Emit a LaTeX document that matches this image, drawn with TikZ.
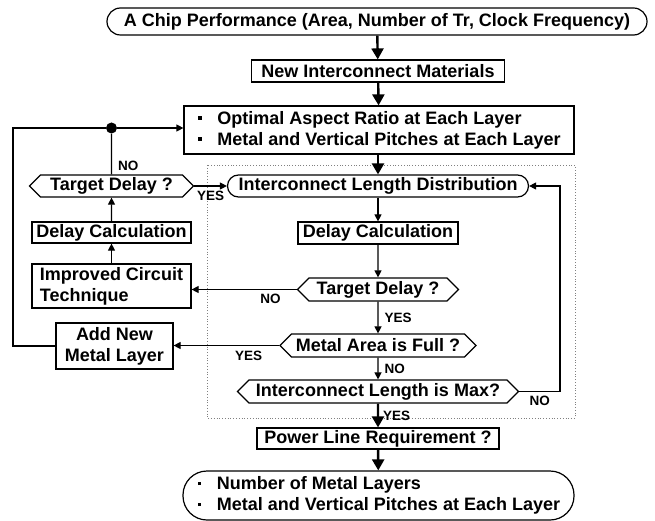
\documentclass[tikz,border=0pt]{standalone}
\usepackage{fontspec}
\setmainfont{Liberation Sans}
\usetikzlibrary{shapes.symbols,arrows.meta}

\newcommand{\bul}{\makebox[20bp][l]{\hspace{1bp}\rule[4.5bp]{3.5bp}{3.5bp}}}

\begin{document}
\begin{tikzpicture}[x=1bp,y=-1bp]
\tikzstyle{every node}+=[inner sep=0pt,font=\bfseries\fontsize{18bp}{21bp}\selectfont]
\tikzstyle{box}=[draw,line width=1.2bp,rectangle]
\tikzstyle{term}=[draw,line width=1.2bp,rectangle,rounded corners=11bp]
\tikzstyle{test}=[draw,line width=1.2bp,signal,signal to=west and east,signal pointer angle=90]
\tikzstyle{lbl}=[font=\bfseries\fontsize{13.5bp}{15bp}\selectfont]
\tikzstyle{arr}=[line width=1.2bp,-{Triangle[width=7bp,length=7bp]}]
\tikzstyle{bigarr}=[line width=2.4bp,-{Triangle[width=12bp,length=11bp]}]
\useasboundingbox (0,0) rectangle (655,521);

\node[term,minimum width=540bp,minimum height=27bp,rounded corners=13.5bp] (perf) at (377,21.5) {A Chip Performance (Area, Number of Tr, Clock Frequency)};
\node[box,minimum width=253bp,minimum height=22bp] (mat) at (378,71) {New Interconnect Materials};
\node[box,minimum width=390bp,minimum height=48bp,align=left] (opt) at (379,130) {\bul Optimal Aspect Ratio at Each Layer\\\bul Metal and Vertical Pitches at Each Layer};
\node[term,minimum width=301bp,minimum height=22bp] (dist) at (378,186) {Interconnect Length Distribution};
\node[box,minimum width=160bp,minimum height=22bp] (calc) at (378,233) {Delay Calculation};
\node[test,minimum width=161bp,minimum height=23bp] (tgt) at (378,289.5) {Target Delay ?};
\node[test,minimum width=196bp,minimum height=23bp] (full) at (378,345.5) {Metal Area is Full ?};
\node[test,minimum width=281bp,minimum height=23bp] (max) at (378,391.5) {Interconnect Length is Max?};
\node[box,minimum width=242bp,minimum height=21bp] (pwr) at (378,438.5) {Power Line Requirement ?};
\node[term,minimum width=391bp,minimum height=49bp,rounded corners=24bp,align=left] (out) at (378.5,495.5) {\bul Number of Metal Layers\\\bul Metal and Vertical Pitches at Each Layer};

\node[test,minimum width=164bp,minimum height=22bp] (ltgt) at (111.5,186) {Target Delay ?};
\node[box,minimum width=159bp,minimum height=21bp] (lcalc) at (111.5,232.5) {Delay Calculation};
\node[box,minimum width=159bp,minimum height=44bp,align=left] (imp) at (111.5,286) {Improved Circuit\\Technique};
\node[box,minimum width=117bp,minimum height=46bp,align=center] (add) at (114.5,346) {Add New\\Metal Layer};
\node[circle,fill,minimum size=11bp] (dot) at (111.5,128) {};
\coordinate (lt) at (13,128);
\coordinate (lb) at (13,346);
\coordinate (rt) at (560,186);
\coordinate (rb) at (560,391.5);

\draw[dotted,line width=0.8bp,gray] (207,165) rectangle (575,418);

\draw[bigarr] (perf) -- (mat);
\draw[bigarr] (mat) -- (opt);
\draw[bigarr] (opt.south -| dist) -- (dist);
\draw[arr] (dist) -- (calc);
\draw[arr] (calc) -- (tgt);
\draw[arr] (tgt) -- node[lbl,anchor=west,xshift=6bp]{YES} (full);
\draw[arr] (full) -- node[lbl,anchor=west,xshift=6bp]{NO} (max);
\draw[bigarr] (max) -- node[lbl,anchor=west,xshift=4bp]{YES} (pwr);
\draw[bigarr] (pwr) -- (out);
\draw[arr] (max.east) -- node[lbl,below=4bp]{NO} (rb) -- (rt) -- (dist.east);
\draw[arr] (tgt.west) -- node[lbl,below=4bp,pos=0.25]{NO} (tgt.west -| imp.east);
\draw[arr] (full.west) -- node[lbl,below=5bp,pos=0.29]{YES} (full.west -| add.east);

\draw[arr] (imp) -- (lcalc);
\draw[arr] (lcalc) -- (ltgt);
\draw[line width=1.2bp] (ltgt) -- node[lbl,anchor=west,xshift=6bp,pos=0.22]{NO} (dot);
\draw[arr] (ltgt.east) -- node[lbl,below=4bp]{YES} (dist.west);
\draw[line width=1.2bp] (add.west) -- (lb) -- (lt) -- (dot);
\draw[arr] (dot) -- (dot -| opt.west);
\end{tikzpicture}
\end{document}
